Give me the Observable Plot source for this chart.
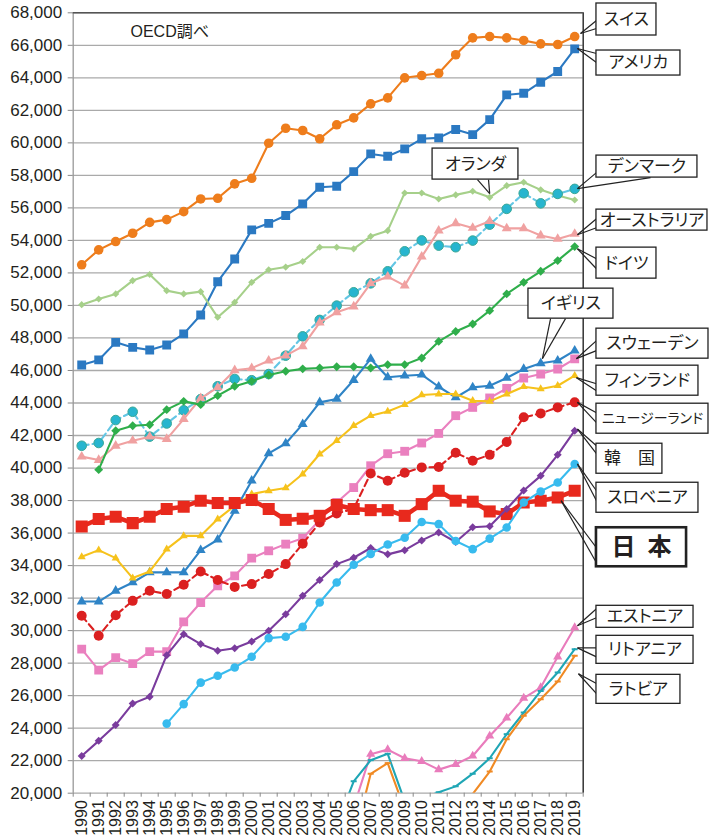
<!DOCTYPE html>
<html><head><meta charset="utf-8">
<script src="https://cdn.jsdelivr.net/npm/d3@7"></script>
<script src="https://cdn.jsdelivr.net/npm/@observablehq/plot@0.6"></script>
<style>
html,body{margin:0;padding:0;background:#fff;}
svg text{font-feature-settings:"palt";}
</style></head><body><div id="chart"></div>
<script>
// ---- data (USD, OECD) ----
const years = d3.range(1990, 2020);
const yTicks = d3.range(20000, 68001, 2000);
const N = null;
const switzerland = [52500,53420,53930,54440,55110,55280,55770,56550,56590,57480,57820,59980,60900,60760,60250,61110,61540,62400,62770,64000,64140,64280,65420,66460,66540,66460,66300,66090,66050,66540];
const usa = [46340,46650,47730,47420,47260,47570,48250,49410,51460,52860,54650,55050,55530,56250,57270,57330,58230,59320,59180,59630,60250,60310,60820,60510,61430,62950,63050,63730,64390,65780];
const netherlands = [50050,50400,50710,51530,51900,50910,50710,50850,49270,50190,51420,52200,52360,52700,53580,53580,53480,54250,54600,56920,56920,56550,56800,57020,56650,57370,57580,57110,56760,56490];
const denmark = [41370,41540,42950,43460,41930,42740,43550,44240,45030,45480,45400,45780,46910,48100,49110,49990,50810,51360,52100,53330,54000,53680,53580,53990,54970,55940,56900,56280,56860,57170];
const australia = [40700,40490,41370,41680,41930,41780,43010,44290,44960,46010,46140,46600,46910,47480,48950,49580,49930,51360,51770,51220,53000,54600,55050,54770,55180,54740,54740,54300,54090,54400];
const germany = [N,39900,42300,42600,42660,43590,44100,43900,44450,45030,45340,45720,45950,46100,46150,46230,46230,46150,46360,46360,46770,47790,48400,48860,49680,50710,51420,52100,52760,53620];
const uk = [31790,31790,32450,32960,33580,33580,33580,34950,35590,37370,39220,40900,41510,42700,44040,44250,45410,46710,45580,45680,45740,45000,44340,44960,45060,45540,46090,46440,46600,47220];
const sweden = [28860,27570,28340,27970,28710,28710,30540,31730,32760,33370,34460,34910,35320,35680,36800,37880,38800,40140,40880,41030,41540,42130,43220,43730,44310,44900,45540,45780,46090,46710];
const finland = [34540,34950,34460,33230,33640,35010,35830,35830,36860,37680,38400,38600,38770,39630,40860,41680,42600,43220,43480,43900,44490,44550,44550,44140,44100,44550,45000,44860,45060,45680];
const newZealand = [30910,29680,30950,31830,32450,32250,32820,33640,33110,32690,32860,33480,34090,35340,36650,37200,37500,39670,39220,39710,40040,40060,40940,40450,40810,41600,43120,43360,43730,44040];
const japan = [36400,36860,37000,36610,37000,37480,37620,37990,37850,37850,38030,37480,36810,36880,37060,37730,37480,37410,37410,37060,37780,38600,37990,37930,37330,37170,37880,37990,38190,38600];
const korea = [22290,23220,24200,25510,25930,28490,29780,29170,28760,28920,29330,29990,31000,32140,33110,34090,34480,35080,34690,34950,35550,36040,35450,36360,36420,37480,38620,39520,40810,42300];
const slovenia = [N,N,N,N,N,24280,25480,26800,27220,27730,28390,29540,29620,30230,31730,32960,34050,34720,35300,35710,36680,36550,35510,35010,35660,36340,37880,38560,39110,40250];
const estonia = [N,N,N,N,N,N,N,N,N,N,N,N,N,N,N,N,19150,22400,22680,22150,21960,21450,21780,22290,23520,24630,25850,26500,28390,30190];
const lithuania = [N,N,N,N,N,N,N,N,N,N,N,N,N,N,N,18000,20730,22030,22420,19500,19670,20060,20420,21200,22150,23630,24960,26290,27420,28860];
const latvia = [N,N,N,N,N,N,N,N,N,N,N,N,N,N,N,N,17060,21190,21850,19000,18500,18900,19400,19950,21330,23320,24760,25780,26870,28450];

// ---- styles (kept apart from the data) ----
const dash = {draw(ctx, size){const r = Math.sqrt(size/Math.PI); ctx.moveTo(-r,0); ctx.lineTo(r,0);}};
const seriesList = [
  {name:"スイス", values:switzerland, color:"#ee7d1c", sym:"circle", r:4.8},
  {name:"アメリカ", values:usa, color:"#2b79c2", sym:"square", r:5.0},
  {name:"オランダ", values:netherlands, color:"#a6d08a", sym:"diamond2", r:3.2},
  {name:"デンマーク", values:denmark, color:"#63c6e4", sym:"circle", r:4.8, dashArr:"7,4", dotFill:"#27b5cf", dotStroke:"#3aa896"},
  {name:"オーストラリア", values:australia, color:"#f0a1a1", sym:"triangle", r:3.7},
  {name:"ドイツ", values:germany, color:"#2fae4b", sym:"diamond2", r:4.0},
  {name:"イギリス", values:uk, color:"#2f84c6", sym:"triangle", r:3.7},
  {name:"スウェーデン", values:sweden, color:"#ea80bf", sym:"square", r:5.0},
  {name:"フィンランド", values:finland, color:"#f6c21c", sym:"triangle", r:3.0},
  {name:"ニュージーランド", values:newZealand, color:"#db2020", sym:"circle", r:5.0, dashArr:"7,4"},
  {name:"日本", values:japan, color:"#e8291d", sym:"square", r:6.8, width:4.5},
  {name:"韓国", values:korea, color:"#7a3c9d", sym:"diamond2", r:3.6},
  {name:"スロベニア", values:slovenia, color:"#38bbee", sym:"circle", r:4.3},
  {name:"エストニア", values:estonia, color:"#e97cbc", sym:"triangle", r:3.4},
  {name:"リトアニア", values:lithuania, color:"#1fa6b5", sym:dash, r:3.0},
  {name:"ラトビア", values:latvia, color:"#f08a24", sym:dash, r:3.0}
];

// ---- callout annotations (data units) ----
const callouts = [
 {label:"スイス", x1:2020.28, x2:2023.81, y1:68572, y2:66603, tip:[2019.34,66725], base:[[2020.28,67526],[2020.28,67034]]},
 {label:"アメリカ", x1:2020.28, x2:2025.22, y1:65680, y2:64141, tip:[2019.16,65803], base:[[2020.28,65495],[2020.28,64941]]},
 {label:"デンマーク", x1:2020.28, x2:2026.22, y1:59218, y2:57864, tip:[2019.16,57187], base:[[2020.28,58172],[2023.46,57864]]},
 {label:"オーストラリア", x1:2020.28, x2:2026.81, y1:55895, y2:54603, tip:[2019.16,54349], base:[[2020.28,55334],[2020.28,54781]]},
 {label:"ドイツ", x1:2020.28, x2:2023.81, y1:53557, y2:51649, tip:[2019.16,53488], base:[[2020.28,52872],[2020.28,52257]]},
 {label:"イギリス", x1:2016.28, x2:2021.28, y1:51034, y2:49188, tip:[2017.1,46726], base:[[2017.58,49188],[2018.46,49188]]},
 {label:"スウェーデン", x1:2020.28, x2:2026.87, y1:48573, y2:46726, tip:[2019.1,46726], base:[[2020.28,47834],[2020.28,47219]]},
 {label:"フィンランド", x1:2020.28, x2:2026.28, y1:46296, y2:44449, tip:[2019.1,45557], base:[[2020.28,45187],[2020.28,44756]]},
 {label:"ニュージーランド", x1:2020.28, x2:2026.87, y1:43957, y2:42111, tip:[2019.16,44040], base:[[2020.28,43403],[2020.28,42788]], small:true},
 {label:"韓　国", x1:2020.28, x2:2024.16, y1:41496, y2:39649, tip:[2019.16,42400], base:[[2020.28,41372],[2020.28,40880]]},
 {label:"スロベニア", x1:2020.28, x2:2026.28, y1:39095, y2:37249, tip:[2019.16,40250], base:[[2020.28,38603],[2020.28,37988]]},
 {label:"エストニア", x1:2020.28, x2:2025.99, y1:31526, y2:30172, tip:[2019.16,30295], base:[[2020.28,31341],[2020.28,30787]]},
 {label:"リトアニア", x1:2020.28, x2:2025.99, y1:29680, y2:27957, tip:[2019.16,28939], base:[[2020.28,28939],[2020.28,28385]]},
 {label:"ラトビア", x1:2020.28, x2:2025.22, y1:27280, y2:25495, tip:[2019.22,27346], base:[[2020.28,26744],[2020.28,26129]]},
 {label:"オランダ", x1:2010.64, x2:2015.69, y1:59649, y2:57741, tip:[2014.0,56880], base:[[2013.28,57741],[2013.93,57741]]}
];
const japanCallout = [{label:"日\u2002本", x1:2020.28, x2:2025.58, y1:36326, y2:33926, tip:[2018.2,37990], base:[[2020.28,35096],[2020.28,34173]]}];
const sourceNote = [{label:"OECD調べ", x:1992.87, y:66850}];

const wedges = [...callouts, ...japanCallout].flatMap(c => c.base.map(b => ({x1:b[0], y1:b[1], x2:c.tip[0], y2:c.tip[1]})));

const jpFont = "'Noto Sans CJK JP', sans-serif";
const numFont = "'Liberation Sans', Arial, 'Noto Sans CJK JP', sans-serif";
const ink = "#231f20";

const marks = [
  Plot.gridY({ticks: yTicks, stroke: "#aaaaaa", strokeOpacity: 1, strokeWidth: 1.3}),
  Plot.ruleX([1989.5], {stroke: "#999", strokeWidth: 1.3}),
  Plot.ruleY([68000], {stroke: "#555", strokeWidth: 1.5}),
  Plot.ruleX([2019.5], {stroke: "#333", strokeWidth: 1.5}),
  Plot.axisY({ticks: yTicks, tickFormat: d3.format(","), tickSize: 5, tickPadding: 6, fontSize: 17, stroke: "#888", fill: ink, fontFamily: numFont}),
  Plot.axisX({ticks: d3.range(1989.5, 2020, 1), tickSize: 4, tickFormat: () => "", stroke: "#888"}),
  Plot.axisX({ticks: years, tickFormat: d => String(d), tickRotate: -90, tickSize: 0, tickPadding: 7, fontSize: 16, fill: ink, fontFamily: numFont})
];

for (const s of seriesList) {
  const data = years.map((y, i) => ({year: y, value: s.values[i]})).filter(d => d.value != null);
  marks.push(Plot.line(data, {x: "year", y: "value", stroke: s.color, strokeWidth: s.width || 2.1, strokeDasharray: s.dashArr, clip: true}));
  const isDash = typeof s.sym === "object";
  marks.push(Plot.dot(data, {x: "year", y: "value", symbol: s.sym, r: s.r,
    fill: isDash ? "none" : (s.dotFill || s.color),
    stroke: isDash ? s.color : (s.dotStroke || "none"), strokeWidth: isDash ? 2 : 1, clip: true}));
}

marks.push(
  Plot.text(sourceNote, {x: "x", y: "y", text: "label", textAnchor: "start", fontSize: 16, fill: ink, fontFamily: numFont}),
  Plot.link(wedges, {x1: "x1", y1: "y1", x2: "x2", y2: "y2", stroke: "#222", strokeWidth: 1.2}),
  Plot.rect(callouts, {x1: "x1", x2: "x2", y1: "y1", y2: "y2", fill: "white", stroke: "#222", strokeWidth: 1.3}),
  Plot.rect(japanCallout, {x1: "x1", x2: "x2", y1: "y1", y2: "y2", fill: "white", stroke: "#222", strokeWidth: 2.6}),
  Plot.text(callouts.filter(c => !c.small), {x: d => (d.x1 + d.x2) / 2, y: d => (d.y1 + d.y2) / 2, text: "label", fontSize: 17, fill: ink, fontFamily: jpFont}),
  Plot.text(callouts.filter(c => c.small), {x: d => (d.x1 + d.x2) / 2, y: d => (d.y1 + d.y2) / 2, text: "label", fontSize: 14, fill: ink, fontFamily: jpFont}),
  Plot.text(japanCallout, {x: d => (d.x1 + d.x2) / 2, y: d => (d.y1 + d.y2) / 2, text: "label", fontSize: 24, fontWeight: "bold", fill: ink, fontFamily: jpFont})
);

const chart = Plot.plot({
  width: 718, height: 839,
  marginLeft: 72.7, marginRight: 135.3, marginTop: 12.3, marginBottom: 46.3,
  x: {type: "linear", domain: [1989.5, 2019.5]},
  y: {domain: [20000, 68000]},
  style: {background: "white", color: ink, fontFamily: numFont, overflow: "visible"},
  marks
});
document.getElementById("chart").appendChild(chart);
</script></body></html>
